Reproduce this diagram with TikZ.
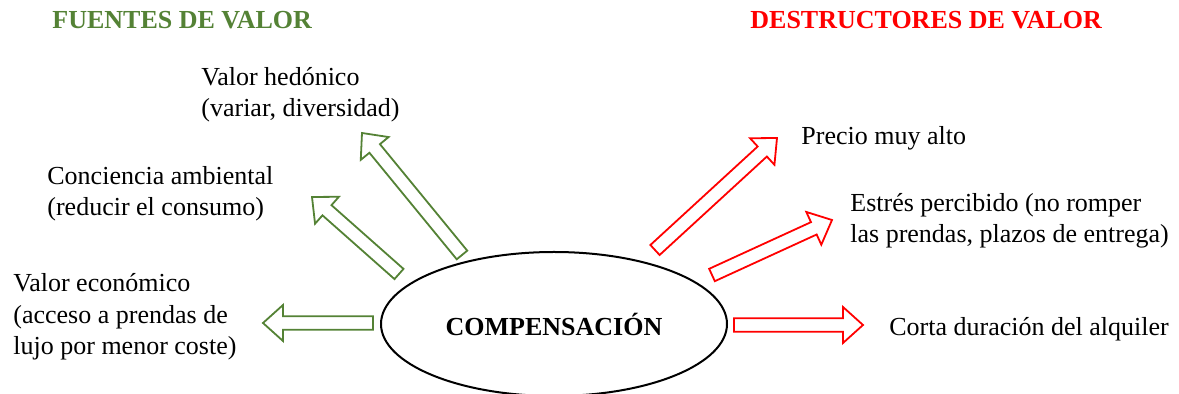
\documentclass[tikz,border=0pt]{standalone}
\usepackage{fontspec}
\setmainfont{Liberation Serif}
\usetikzlibrary{calc,shapes.geometric}
\definecolor{fgreen}{RGB}{84,130,53}
\definecolor{fred}{RGB}{255,0,0}
\newcommand\sw{3.4pt}
\newcommand\hw{9pt}
\newcommand\hl{10pt}
\newcommand\barrow[3]{%
  \path ($(#3)!\hl!(#2)$) coordinate (hb);
  \draw[#1]
    ($(#2)!\sw!90:(#3)$) -- ($(hb)!\sw!90:(#3)$) -- ($(hb)!\hw!90:(#3)$) --
    (#3) -- ($(hb)!\hw!-90:(#3)$) -- ($(hb)!\sw!-90:(#3)$) --
    ($(#2)!\sw!-90:(#3)$) -- cycle;
}
\tikzset{
  garrow/.style={draw=fgreen,fill=white,line width=0.9pt,line join=miter},
  rarrow/.style={draw=fred,fill=white,line width=0.9pt,line join=miter},
  lbl/.style={anchor=west,align=left,inner sep=0pt,font=\fontsize{13}{15.7}\selectfont},
  ttl/.style={anchor=west,inner sep=0pt,font=\fontsize{13}{15.7}\selectfont\bfseries},
}
\begin{document}
\begin{tikzpicture}[x=0.5pt,y=-0.5pt]
\useasboundingbox (0,0) rectangle (1179,394);
% titles
\node[ttl,text=fgreen] (t1) at (52,20) {FUENTES DE VALOR};
\node[ttl,text=fred] (t2) at (750,20) {DESTRUCTORES DE VALOR};
% centre
\node[draw,ellipse,line width=1pt,minimum width=173pt,minimum height=72pt,inner sep=0pt,
  font=\fontsize{13}{15.7}\selectfont\bfseries] (comp) at (554,324) {COMPENSACIÓN};
% labels
\node[lbl] (hed) at (201,95) {Valor hedónico\\(variar, diversidad)};
\node[lbl] (amb) at (47,194) {Conciencia ambiental\\(reducir el consumo)};
\node[lbl] (eco) at (13,317) {Valor económico\\(acceso a prendas de\\lujo por menor coste)};
\node[lbl] (pre) at (801,138) {Precio muy alto};
\node[lbl] (est) at (850,221) {Estrés percibido (no romper\\las prendas, plazos de entrega)};
\node[lbl] (cor) at (889,329) {Corta duración del alquiler};
% arrow end points
\coordinate (g1t) at (373,323); \coordinate (g1h) at (263,323);
\coordinate (g2t) at (399,274); \coordinate (g2h) at (312,197);
\coordinate (g3t) at (462,255); \coordinate (g3h) at (362,133);
\coordinate (r1t) at (655,250); \coordinate (r1h) at (777,138);
\coordinate (r2t) at (712,275); \coordinate (r2h) at (832,220);
\coordinate (r3t) at (734,325); \coordinate (r3h) at (863,325);
\barrow{garrow}{g1t}{g1h}
\barrow{garrow}{g2t}{g2h}
\barrow{garrow}{g3t}{g3h}
\barrow{rarrow}{r1t}{r1h}
\barrow{rarrow}{r2t}{r2h}
\barrow{rarrow}{r3t}{r3h}
\end{tikzpicture}
\end{document}
